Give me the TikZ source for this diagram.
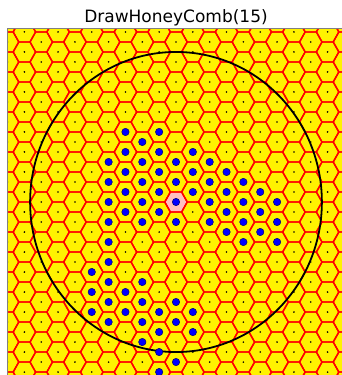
\documentclass[tikz,border=0pt]{standalone}
\usepackage{fontspec}
\setmainfont{DejaVu Sans}
\usepackage{tikz}
\usetikzlibrary{calc}
\newcommand{\cellptradius}{7.4pt}
\tikzset{cellpt/.style={circle, draw=black!55!blue, fill=blue, line width=0.5pt, inner sep=0pt, minimum width=\cellptradius}}
\tikzset{hexedge/.style={draw=red, line width=1.4pt, line join=round}}
\tikzset{ringline/.style={draw=black, line width=1.8pt}}

\begin{document}
\begin{tikzpicture}[x=11.23pt, y=11.55pt]

\useasboundingbox (-176pt,-173pt) rectangle (165pt,202pt);

\node[font=\fontsize{17}{19}\selectfont] (title) at (0,15.93) {DrawHoneyComb(15)};

\begin{scope}
\clip (-15,-15) rectangle (15,15);
\fill[yellow] (-15,-15) rectangle (15,15);
% the middle cell
\fill[pink] (1,0) -- ++(-0.5,0.866025) -- ++(-1,0) -- ++(-0.5,-0.866025) -- ++(0.5,-0.866025) -- ++(1,0) -- cycle;
\foreach \c in {-11,...,10} {
  \pgfmathsetmacro{\xc}{1.5*\c}
  \pgfmathsetmacro{\yoff}{mod(abs(\c),2)*0.866025}
  \foreach \j in {-10,...,9} {
    \pgfmathsetmacro{\yc}{\yoff+1.732051*\j}
    \draw[hexedge] ({\xc+1},\yc) -- ++(-0.5,0.866025) -- ++(-1,0) -- ++(-0.5,-0.866025) -- ++(0.5,-0.866025) -- ++(1,0) -- cycle;
    \fill[black] (\xc,\yc) circle (0.9pt);
  }
}

\draw[ringline] (0,0) circle [x radius=12.99, y radius=12.99];

\foreach \c/\m in {-5/-7,-5/-9,-5/-11,
  -4/4,-4/2,-4/0,-4/-2,-4/-4,-4/-6,-4/-8,-4/-10,-4/-12,
  -3/7,-3/5,-3/3,-3/1,-3/-1,-3/-9,-3/-11,
  -2/6,-2/4,-2/2,-2/0,-2/-2,-2/-8,-2/-10,-2/-12,-2/-14,
  -1/7,-1/5,-1/3,-1/1,-1/-1,-1/-11,-1/-13,-1/-15,-1/-17,
  0/4,0/2,0/0,0/-2,0/-10,0/-12,0/-16,
  1/5,1/3,1/1,1/-11,1/-13,
  2/4,2/2,2/0,2/-2,
  3/3,3/1,3/-1,3/-3,
  4/2,4/0,4/-2,4/-4,
  5/1,5/-1,5/-3,
  6/0,6/-2,6/-4}
  \node[cellpt] (p\c x\m) at ({1.5*\c},{0.866025*\m}) {};
\end{scope}

%\draw[thin] (0,-15) -- (0,15);
\draw[black!50, line width=0.8pt] (-15,-15) rectangle (15,15);

\end{tikzpicture}
\end{document}
